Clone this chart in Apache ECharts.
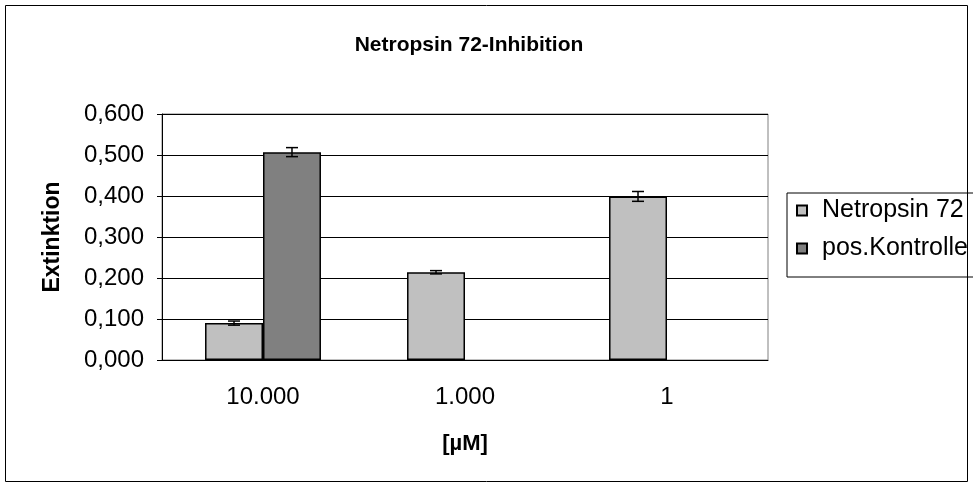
<!DOCTYPE html>
<html>
<head>
<meta charset="utf-8">
<script src="https://cdn.jsdelivr.net/npm/echarts@6/dist/echarts.min.js"></script>
<style>
  html, body { margin: 0; padding: 0; background: #fff; }
  #chart { width: 973px; height: 486px; }
</style>
</head>
<body>
<div id="chart"></div>
<script>
// 数据
const categories = ['10.000', '1.000', '1'];
const netropsin = [0.090, 0.214, 0.399];
const netropsinErr = [0.005, 0.004, 0.012];
const kontrolle = [0.507, null, null];
const kontrolleErr = [0.011, null, null];
const yTicks = [0, 0.1, 0.2, 0.3, 0.4, 0.5, 0.6];

(function () {
  let myChart = echarts.init(document.getElementById('chart'))
  const barFrac = 0.287
  const font = 'Liberation Sans, Arial, sans-serif'

  // 误差线
  function errorSeries(vals, errs, side) {
    return {
      type: 'custom',
      z: 5,
      data: vals.map((v, i) => v == null ? [i, NaN, NaN] : [i, v - errs[i], v + errs[i]]),
      renderItem: function (params, api) {
        if (isNaN(api.value(1))) return
        let band = api.size([1, 0])[0]
        let lo = api.coord([api.value(0), api.value(1)])
        let hi = api.coord([api.value(0), api.value(2)])
        let x = lo[0] + side * band * barFrac / 2
        let hw = 6
        let st = { stroke: '#000', lineWidth: 1.5 }
        return {
          type: 'group',
          children: [
            { type: 'line', shape: { x1: x, y1: lo[1], x2: x, y2: hi[1] }, style: st },
            { type: 'line', shape: { x1: x - hw, y1: lo[1], x2: x + hw, y2: lo[1] }, style: st },
            { type: 'line', shape: { x1: x - hw, y1: hi[1], x2: x + hw, y2: hi[1] }, style: st }
          ]
        }
      }
    }
  }

  let option = {
    animation: false,
    textStyle: { fontFamily: font },
    title: {
      text: 'Netropsin 72-Inhibition',
      left: 464,
      textAlign: 'center',
      top: 30,
      textStyle: { fontSize: 21, fontWeight: 'bold', color: '#000', fontFamily: font }
    },
    legend: {
      orient: 'vertical',
      left: 787,
      top: 193,
      padding: [5, 60, 16, 9],
      itemGap: 13,
      borderColor: '#000',
      borderWidth: 1,
      icon: 'rect',
      itemWidth: 10,
      itemHeight: 10,
      textStyle: { fontSize: 25, color: '#000', fontFamily: font, padding: [0, 0, 0, 10] },
      data: ['Netropsin 72', 'pos.Kontrolle']
    },
    grid: {
      left: 162,
      right: 973 - 768,
      top: 114,
      bottom: 486 - 360,
      show: true,
      borderColor: '#808080',
      borderWidth: 1
    },
    xAxis: {
      type: 'category',
      data: categories,
      name: '[µM]',
      nameLocation: 'middle',
      nameGap: 73,
      nameTextStyle: { fontSize: 22, fontWeight: 'bold', color: '#000' },
      axisLine: { lineStyle: { color: '#000', width: 1 } },
      axisTick: { length: 6, lineStyle: { color: '#000' } },
      axisLabel: { fontSize: 24, color: '#000', margin: 25 }
    },
    yAxis: {
      type: 'value',
      min: yTicks[0],
      max: yTicks[yTicks.length - 1],
      interval: yTicks[1] - yTicks[0],
      name: 'Extinktion',
      nameLocation: 'middle',
      nameGap: 98,
      nameTextStyle: { fontSize: 23, fontWeight: 'bold', color: '#000' },
      axisLine: { show: true, lineStyle: { color: '#000' } },
      axisTick: { show: true, length: 5, lineStyle: { color: '#000' } },
      axisLabel: {
        fontSize: 24,
        color: '#000',
        margin: 18,
        formatter: v => v.toFixed(3).replace('.', ',')
      },
      splitLine: { lineStyle: { color: '#000', width: 1 } }
    },
    series: [
      {
        name: 'Netropsin 72',
        type: 'bar',
        barWidth: (barFrac * 100) + '%',
        barGap: '0%',
        data: netropsin,
        itemStyle: { color: '#c0c0c0', borderColor: '#000', borderWidth: 1.5 }
      },
      {
        name: 'pos.Kontrolle',
        type: 'bar',
        barWidth: (barFrac * 100) + '%',
        barGap: '0%',
        data: kontrolle,
        itemStyle: { color: '#808080', borderColor: '#000', borderWidth: 1.5 }
      },
      errorSeries(netropsin, netropsinErr, -1),
      errorSeries(kontrolle, kontrolleErr, 1)
    ],
    graphic: [
      {
        type: 'rect',
        shape: { x: 5.5, y: 5.5, width: 962, height: 476 },
        style: { fill: 'none', stroke: '#000', lineWidth: 1 },
        silent: true
      }
    ]
  }

  myChart.setOption(option)
  window.addEventListener('resize', function () {
    myChart.resize()
  })
})();
</script>
</body>
</html>
